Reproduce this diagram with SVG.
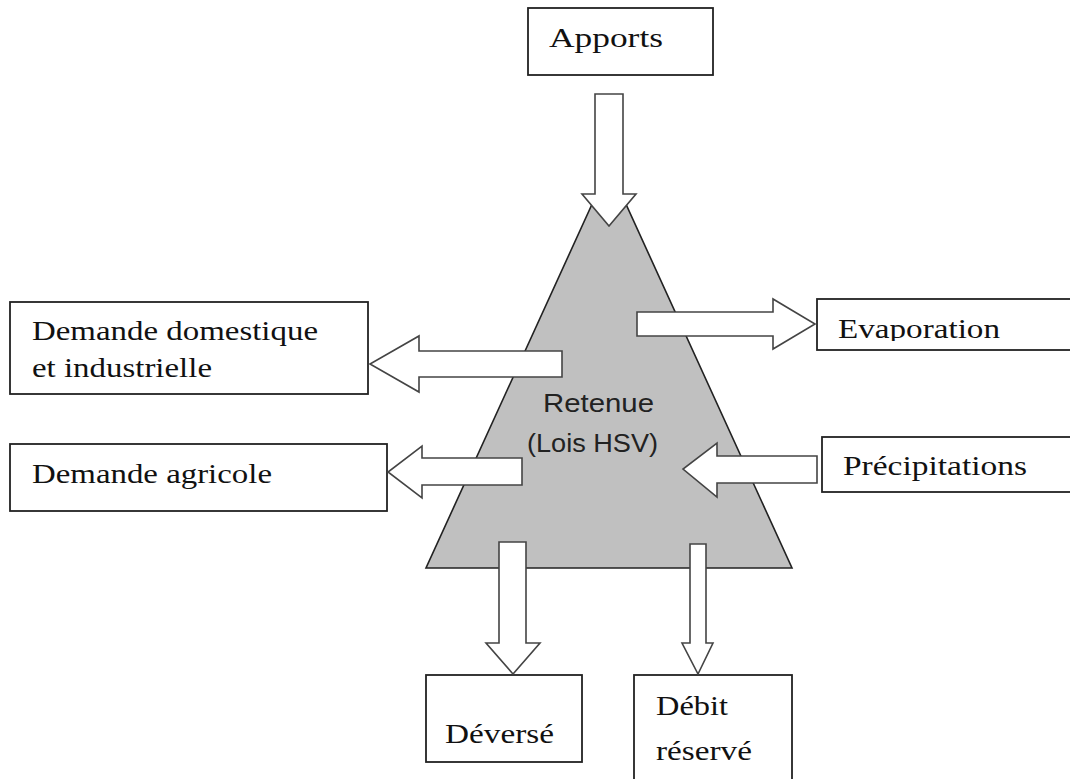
<svg xmlns="http://www.w3.org/2000/svg" width="1070" height="779" viewBox="0 0 1070 779">
<style>
.box{fill:#fff;stroke:#222;stroke-width:1.8}
.arr{fill:#fff;stroke:#444;stroke-width:1.6;stroke-linejoin:miter}
.t{font-family:"Liberation Serif","Times New Roman",serif;font-size:28px;fill:#111}
.s{font-family:"Liberation Sans",Arial,sans-serif;font-size:26px;fill:#222}
</style>
<defs>
<clipPath id="evclip"><rect x="818" y="300" width="260" height="41"/></clipPath>
</defs>
<rect width="1070" height="779" fill="#fff"/>
<g id="retenue">
<polygon points="609,167 426,568 792,568" fill="#c0c0c0" stroke="#222" stroke-width="1.6"/>
<text class="s" x="543" y="412" textLength="111" lengthAdjust="spacingAndGlyphs">Retenue</text>
<text class="s" x="527" y="452" textLength="131" lengthAdjust="spacingAndGlyphs">(Lois HSV)</text>
</g>
<g id="apports">
<rect class="box" x="528" y="8" width="185" height="67"/>
<text class="t" x="549" y="47" font-size="29" textLength="114" lengthAdjust="spacingAndGlyphs">Apports</text>
</g>
<g id="demande-domestique">
<rect class="box" x="10" y="302" width="358" height="92"/>
<text class="t" x="32" y="340" textLength="286" lengthAdjust="spacingAndGlyphs">Demande domestique</text>
<text class="t" x="32" y="377" textLength="180" lengthAdjust="spacingAndGlyphs">et industrielle</text>
</g>
<g id="demande-agricole">
<rect class="box" x="10" y="444" width="377" height="67"/>
<text class="t" x="32" y="483" textLength="240" lengthAdjust="spacingAndGlyphs">Demande agricole</text>
</g>
<g id="evaporation">
<rect class="box" x="817" y="299" width="270" height="51"/>
<text class="t" x="838" y="338" textLength="162" lengthAdjust="spacingAndGlyphs" clip-path="url(#evclip)">Evaporation</text>
</g>
<g id="precipitations">
<rect class="box" x="822" y="437" width="270" height="55"/>
<text class="t" x="843" y="475" textLength="184" lengthAdjust="spacingAndGlyphs">Précipitations</text>
</g>
<g id="deverse">
<rect class="box" x="426" y="675" width="156" height="87"/>
<text class="t" x="445" y="743" textLength="109" lengthAdjust="spacingAndGlyphs">Déversé</text>
</g>
<g id="debit-reserve">
<rect class="box" x="634" y="675" width="158" height="120"/>
<text class="t" x="656" y="715" textLength="72" lengthAdjust="spacingAndGlyphs">Débit</text>
<text class="t" x="656" y="760" textLength="96" lengthAdjust="spacingAndGlyphs">réservé</text>
</g>
<g id="connectors">
<polygon class="arr" points="595,94 623,94 623,194 636,194 609,226 582,194 595,194"/>
<polygon class="arr" points="637,312 773,312 773,299 815,324 773,349 773,336 637,336"/>
<polygon class="arr" points="562,351 419,351 419,336 370,364 419,392 419,377 562,377"/>
<polygon class="arr" points="522,458 422,458 422,446 388,472 422,498 422,485 522,485"/>
<polygon class="arr" points="817,456 717,456 717,443 683,469 717,497 717,483 817,483"/>
<polygon class="arr" points="499,542 526,542 526,643 540,643 513,674 486,643 499,643"/>
<polygon class="arr" points="690,544 706,544 706,643 713,643 698,674 682,643 690,643"/>
</g>
</svg>
